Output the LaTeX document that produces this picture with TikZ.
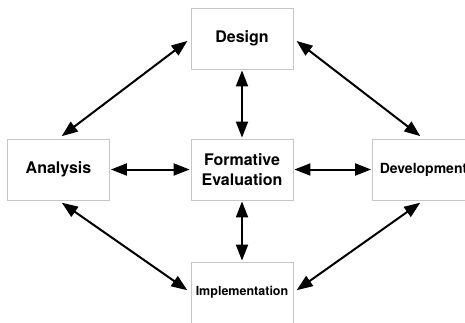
\documentclass[tikz,border=0pt]{standalone}
\usepackage{fontspec}
\setmainfont{TeX Gyre Heros}
\usetikzlibrary{arrows.meta}
\usetikzlibrary{calc}

\begin{document}
\begin{tikzpicture}[x=1pt,y=-1pt,font=\bfseries\fontsize{16}{20}\selectfont,
	phase/.style={draw=gray!45,line width=0.8pt,minimum width=102pt,minimum height=61pt,inner sep=0pt,align=center},
	link/.style={line width=2pt,{Triangle[length=16pt,width=12pt]}-{Triangle[length=16pt,width=12pt]}}]
					\clip (0,0) rectangle (465,322);
					\node[phase] (design) at (242,38.5) {Design};
					\node[phase] (analysis) at (58.5,169.5) {Analysis};
					\node[phase] (formative) at (242,169.5) {Formative\\Evaluation};
					\node[phase,font=\bfseries\fontsize{14}{16}\selectfont] (development) at (423.5,169.5) {Development};
					\node[phase,font=\bfseries\fontsize{12.5}{15}\selectfont] (implementation) at (242,292.5) {Implementation};
					% straight links
					\foreach \from/\to in {design.south/formative.north, formative.south/implementation.north,
						analysis.east/formative.west, formative.east/development.west} {
						\draw[link,shorten <=1pt,shorten >=1pt] (\from) -- (\to);
					}
					% outer ring
					\foreach \from/\to in {design.west/analysis.north, design.east/development.north,
						analysis.south/implementation.west, development.south/implementation.east} {
						\draw[link,shorten <=4pt,shorten >=4pt] (\from) -- (\to);
					}
				\end{tikzpicture}
\end{document}
